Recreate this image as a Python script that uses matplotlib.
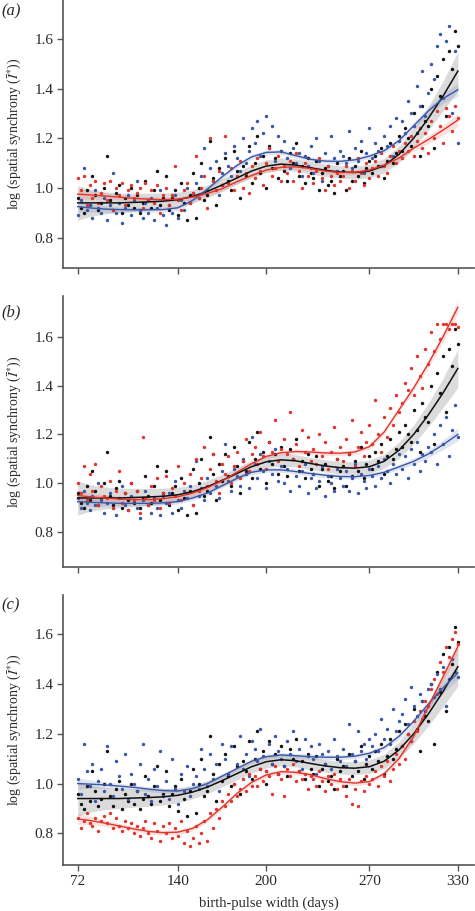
import matplotlib
matplotlib.use("Agg")
import matplotlib.pyplot as plt
import numpy as np

plt.rcParams['font.family'] = ['Liberation Serif', 'DejaVu Serif']
plt.rcParams['mathtext.fontset'] = 'stix'

# ---------------- data ----------------
DAYS = list(range(72, 331, 2))            # x of each scatter point
FIT_DAYS = [72] + list(range(80, 331, 10))  # x of fitted curves
XTICKS = [72, 140, 200, 270, 330]
YTICKS = [0.8, 1.0, 1.2, 1.4, 1.6]
PANEL_LABELS = ['(a)', '(b)', '(c)']

# black series (identical in all panels)
BLACK_PTS = [
    0.96, 0.92, 0.90, 0.99, 0.93, 1.05, 0.97, 0.91, 0.94, 1.00,
    1.13, 0.95, 0.91, 0.98, 1.01, 0.90, 0.96, 0.93, 1.00, 0.92,
    0.97, 0.90, 0.94, 1.03, 0.95, 0.92, 0.99, 1.07, 0.93, 0.96,
    1.05, 0.91, 0.96, 0.99, 0.89, 1.02, 0.94, 0.87, 0.97, 1.06,
    0.88, 1.00, 1.10, 0.95, 0.97, 1.19, 1.04, 0.93, 1.08, 1.01,
    1.12, 1.03, 0.99, 1.15, 1.07, 0.96, 1.09, 1.05, 1.17, 1.02,
    1.10, 1.21, 1.06, 1.13, 1.00, 1.17, 1.08, 1.12, 1.04, 1.15,
    1.07, 1.03, 1.14, 1.10, 1.18, 1.05, 1.09, 1.02, 1.12, 1.06,
    1.04, 1.11, 0.99, 1.06, 1.08, 1.01, 1.03, 0.98, 1.10, 1.05,
    1.07, 0.99, 1.12, 1.03, 1.09, 1.05, 1.15, 1.02, 1.08, 1.11,
    1.06, 1.13, 1.09, 1.16, 1.04, 1.11, 1.18, 1.10, 1.14, 1.21,
    1.15, 1.24, 1.20, 1.17, 1.30, 1.22, 1.13, 1.33, 1.27, 1.25,
    1.40, 1.16, 1.45, 1.37, 1.52, 1.29, 1.55, 1.48, 1.63, 1.57]
BLACK_FIT = [0.94, 0.94, 0.94, 0.94, 0.942, 0.944, 0.947, 0.953, 0.966,
             0.986, 1.012, 1.04, 1.068, 1.088, 1.096, 1.092, 1.081, 1.071,
             1.064, 1.062, 1.068, 1.09, 1.135, 1.2, 1.28, 1.37, 1.47]
GREY_HW = [0.07, 0.055, 0.045, 0.04, 0.037, 0.035, 0.033, 0.03, 0.027,
           0.026, 0.025, 0.025, 0.025, 0.025, 0.025, 0.025, 0.025, 0.025,
           0.025, 0.026, 0.027, 0.029, 0.033, 0.039, 0.048, 0.06, 0.078]
COLOR_HW = [0.022, 0.017, 0.013, 0.011, 0.01, 0.01, 0.01, 0.01, 0.01,
            0.01, 0.01, 0.01, 0.01, 0.01, 0.01, 0.01, 0.01, 0.01, 0.01,
            0.01, 0.01, 0.01, 0.011, 0.013, 0.016, 0.02, 0.026]

# panel (a)
A_BLUE_PTS = [
    0.89, 0.95, 1.08, 0.91, 0.93, 0.88, 0.99, 0.92, 0.90, 0.96,
    0.87, 0.93, 1.06, 0.90, 0.94, 0.86, 0.92, 0.97, 0.89, 0.95,
    1.03, 0.91, 0.88, 0.94, 0.90, 0.96, 0.87, 0.92, 0.99, 0.89,
    0.85, 0.93, 0.90, 0.97, 0.88, 0.95, 0.91, 1.00, 0.94, 0.98,
    1.02, 0.96, 1.05, 1.16, 0.99, 1.08, 1.03, 1.11, 0.97, 1.06,
    1.14, 1.09, 1.05, 1.17, 1.12, 1.07, 1.20, 1.10, 1.15, 1.24,
    1.18, 1.27, 1.13, 1.22, 1.29, 1.16, 1.25, 1.11, 1.21, 1.15,
    1.19, 1.12, 1.08, 1.16, 1.10, 1.14, 1.05, 1.13, 1.09, 1.17,
    1.06, 1.20, 1.11, 1.03, 1.14, 1.09, 1.21, 1.12, 1.07, 1.15,
    1.13, 1.10, 1.23, 1.08, 1.16, 1.11, 1.19, 1.06, 1.14, 1.24,
    1.12, 1.18, 1.15, 1.09, 1.21, 1.17, 1.25, 1.13, 1.28, 1.19,
    1.27, 1.22, 1.35, 1.30, 1.25, 1.41, 1.33, 1.47, 1.29, 1.38,
    1.50, 1.44, 1.57, 1.62, 1.36, 1.59, 1.65, 1.30, 1.55, 1.18]
A_RED_PTS = [
    1.04, 0.99, 1.05, 0.93, 1.01, 0.96, 1.03, 0.94, 0.98, 1.02,
    0.95, 1.03, 0.91, 1.00, 0.97, 1.02, 0.93, 0.99, 1.01, 0.96,
    0.98, 1.00, 0.92, 1.02, 0.95, 0.99, 0.94, 1.01, 0.90, 0.97,
    1.00, 0.93, 0.97, 1.09, 0.95, 0.91, 0.99, 1.02, 0.94, 0.98,
    1.13, 0.96, 1.00, 1.05, 0.92, 1.20, 1.03, 0.99, 1.07, 1.01,
    1.21, 1.02, 1.08, 0.99, 1.05, 1.11, 1.00, 1.06, 0.98, 1.09,
    1.04, 1.12, 1.07, 1.01, 1.10, 1.16, 1.05, 1.08, 1.13, 1.03,
    1.09, 1.06, 1.11, 1.03, 1.14, 1.07, 1.00, 1.10, 1.05, 1.08,
    1.02, 1.07, 1.12, 1.04, 0.99, 1.09, 1.05, 1.01, 1.06, 1.03,
    1.05, 1.09, 1.00, 1.07, 1.03, 1.12, 1.06, 1.01, 1.10, 1.04,
    1.08, 1.11, 1.05, 1.14, 1.09, 1.06, 1.13, 1.17, 1.10, 1.15,
    1.12, 1.18, 1.15, 1.21, 1.13, 1.19, 1.24, 1.16, 1.22, 1.14,
    1.27, 1.20, 1.31, 1.25, 1.18, 1.32, 1.29, 1.23, 1.33, 1.28]
A_BLUE_FIT = [0.925, 0.92, 0.915, 0.913, 0.912, 0.912, 0.913, 0.92, 0.95,
              0.995, 1.045, 1.09, 1.125, 1.143, 1.145, 1.13, 1.115, 1.108,
              1.107, 1.113, 1.128, 1.15, 1.19, 1.25, 1.31, 1.36, 1.395]
A_RED_FIT = [0.975, 0.972, 0.968, 0.963, 0.958, 0.955, 0.953, 0.955, 0.963,
             0.978, 0.997, 1.025, 1.05, 1.072, 1.083, 1.085, 1.078, 1.068,
             1.062, 1.063, 1.072, 1.092, 1.12, 1.16, 1.195, 1.233, 1.273]

# panel (b)
B_BLUE_PTS = [
    0.94, 0.90, 0.97, 0.92, 0.89, 0.95, 0.91, 1.00, 0.93, 0.88,
    0.92, 0.96, 0.90, 0.87, 0.94, 0.99, 0.91, 0.89, 0.95, 0.93,
    0.90, 0.86, 0.93, 0.97, 0.91, 0.88, 0.94, 0.90, 0.87, 0.95,
    0.92, 0.96, 0.88, 1.01, 0.93, 0.90, 0.97, 0.94, 0.99, 0.91,
    1.09, 0.95, 0.98, 0.93, 1.02, 0.96, 1.12, 0.99, 0.94, 1.05,
    1.16, 1.01, 0.97, 1.06, 1.03, 0.99, 1.10, 1.04, 0.98, 1.19,
    1.08, 1.02, 1.12, 1.05, 0.98, 1.09, 1.04, 1.14, 1.01, 1.07,
    1.00, 1.06, 0.97, 1.10, 1.03, 0.99, 1.05, 1.08, 0.96, 1.02,
    1.04, 0.98, 1.01, 1.07, 0.95, 1.03, 1.00, 0.97, 1.06, 1.02,
    0.99, 1.05, 0.97, 1.02, 1.08, 0.96, 1.04, 1.01, 0.98, 1.06,
    1.03, 0.99, 1.07, 1.02, 1.10, 1.05, 1.00, 1.08, 1.04, 1.12,
    1.06, 1.11, 1.02, 1.14, 1.08, 1.17, 1.05, 1.12, 1.09, 1.15,
    1.13, 1.20, 1.08, 1.24, 1.16, 1.27, 1.11, 1.22, 1.32, 1.19]
B_RED_PTS = [
    1.00, 0.96, 1.07, 0.93, 1.04, 0.97, 1.08, 0.91, 0.99, 0.95,
    0.94, 1.01, 0.90, 0.97, 1.05, 0.92, 0.96, 0.89, 1.00, 0.93,
    0.97, 0.88, 1.19, 0.94, 0.91, 0.99, 0.93, 1.02, 0.90, 0.96,
    1.03, 0.92, 0.98, 0.95, 1.07, 0.93, 1.00, 0.96, 1.04, 0.91,
    1.10, 0.97, 1.02, 1.15, 0.99, 1.06, 1.12, 1.01, 0.96, 1.08,
    1.04, 1.11, 1.00, 1.07, 1.13, 1.02, 1.09, 1.18, 1.05, 1.12,
    1.15, 1.08, 1.21, 1.11, 1.06, 1.17, 1.13, 1.26, 1.09, 1.14,
    1.18, 1.12, 1.29, 1.10, 1.16, 1.07, 1.22, 1.13, 1.19, 1.09,
    1.14, 1.08, 1.20, 1.11, 1.17, 1.06, 1.13, 1.23, 1.10, 1.15,
    1.09, 1.18, 1.12, 1.26, 1.07, 1.15, 1.21, 1.11, 1.17, 1.24,
    1.16, 1.34, 1.20, 1.13, 1.27, 1.19, 1.31, 1.24, 1.36, 1.29,
    1.33, 1.41, 1.38, 1.47, 1.36, 1.52, 1.44, 1.39, 1.55, 1.49,
    1.62, 1.54, 1.65, 1.59, 1.65, 1.65, 1.63, 1.65, 1.65, 1.64]
B_BLUE_FIT = [0.925, 0.922, 0.92, 0.918, 0.918, 0.918, 0.92, 0.925, 0.94,
              0.96, 0.99, 1.02, 1.045, 1.055, 1.055, 1.048, 1.04, 1.033,
              1.028, 1.027, 1.032, 1.045, 1.067, 1.09, 1.12, 1.158, 1.2]
B_RED_FIT = [0.95, 0.945, 0.94, 0.935, 0.933, 0.933, 0.937, 0.945, 0.96,
             0.982, 1.01, 1.045, 1.08, 1.11, 1.125, 1.13, 1.128, 1.124,
             1.123, 1.128, 1.15, 1.21, 1.3, 1.39, 1.49, 1.6, 1.72]

# panel (c)
C_BLUE_PTS = [
    1.02, 0.96, 1.16, 1.05, 0.99, 1.08, 0.93, 1.01, 1.06, 0.97,
    1.15, 1.00, 0.95, 1.09, 1.03, 0.98, 1.12, 0.94, 1.04, 1.00,
    0.97, 1.08, 1.16, 0.96, 1.02, 0.93, 1.06, 0.99, 1.13, 0.95,
    1.01, 0.94, 1.10, 0.98, 0.92, 1.04, 0.97, 1.07, 0.95, 1.00,
    1.03, 0.98, 1.14, 1.06, 0.99, 1.12, 1.02, 1.08, 0.97, 1.16,
    1.10, 1.04, 1.15, 1.00, 1.08, 1.19, 1.06, 1.12, 1.03, 1.17,
    1.14, 1.09, 1.22, 1.11, 1.05, 1.16, 1.08, 1.19, 1.13, 1.10,
    1.07, 1.17, 1.12, 1.21, 1.09, 1.14, 1.06, 1.18, 1.11, 1.15,
    1.10, 1.04, 1.16, 1.12, 1.08, 1.13, 1.06, 1.18, 1.11, 1.09,
    1.14, 1.07, 1.24, 1.12, 1.09, 1.21, 1.13, 1.16, 1.10, 1.18,
    1.15, 1.20, 1.13, 1.26, 1.18, 1.22, 1.16, 1.30, 1.21, 1.25,
    1.28, 1.34, 1.24, 1.39, 1.31, 1.27, 1.36, 1.33, 1.29, 1.38,
    1.40, 1.35, 1.44, 1.38, 1.47, 1.31, 1.42, 1.50, 1.45, 1.43]
C_RED_PTS = [
    0.86, 0.82, 0.85, 0.88, 0.84, 0.83, 0.86, 0.81, 0.85, 0.87,
    0.84, 0.88, 0.82, 0.86, 0.83, 0.81, 0.85, 0.82, 0.84, 0.80,
    0.83, 0.79, 0.82, 0.85, 0.80, 0.78, 0.84, 0.81, 0.77, 0.83,
    0.80, 0.84, 0.78, 0.82, 0.79, 0.85, 0.76, 0.81, 0.75, 0.78,
    0.83, 0.76, 0.80, 0.85, 0.77, 0.88, 0.82, 0.90, 0.86, 0.93,
    0.91, 0.96, 0.93, 1.00, 0.95, 0.98, 1.02, 0.97, 1.04, 0.99,
    1.03, 0.99, 1.06, 1.01, 1.05, 1.03, 0.96, 1.07, 1.04, 1.02,
    0.95, 1.06, 1.03, 1.08, 1.01, 1.05, 1.02, 1.04, 0.98, 1.03,
    1.02, 0.99, 1.05, 1.01, 0.97, 1.03, 1.00, 1.04, 0.98, 1.02,
    0.99, 0.95, 1.02, 0.92, 0.98, 0.91, 1.01, 0.97, 1.03, 1.00,
    1.02, 1.05, 0.99, 1.07, 1.03, 1.09, 1.01, 1.06, 1.12, 1.08,
    1.15, 1.10, 1.20, 1.17, 1.25, 1.21, 1.29, 1.26, 1.33, 1.31,
    1.38, 1.42, 1.36, 1.49, 1.45, 1.55, 1.51, 1.58, 1.61, 1.56]
C_BLUE_FIT = [1.0, 0.998, 0.995, 0.99, 0.985, 0.978, 0.972, 0.97, 0.98,
              1.0, 1.03, 1.06, 1.09, 1.108, 1.115, 1.112, 1.108, 1.106,
              1.106, 1.11, 1.122, 1.145, 1.19, 1.25, 1.32, 1.385, 1.445]
C_RED_FIT = [0.858, 0.852, 0.842, 0.83, 0.818, 0.808, 0.803, 0.805, 0.82,
             0.855, 0.905, 0.96, 1.005, 1.035, 1.048, 1.045, 1.036, 1.02,
             1.008, 1.002, 1.008, 1.04, 1.1, 1.19, 1.31, 1.43, 1.55]

PANELS = [
    (A_BLUE_PTS, A_RED_PTS, A_BLUE_FIT, A_RED_FIT),
    (B_BLUE_PTS, B_RED_PTS, B_BLUE_FIT, B_RED_FIT),
    (C_BLUE_PTS, C_RED_PTS, C_BLUE_FIT, C_RED_FIT),
]

# ---------------- style ----------------
BLACK = '#111111'
BLUE = '#3a57a6'
RED = '#e3342c'
SPINE = '#555555'
TXT = '#2a2a2a'

positions = [
    [0.1326, 0.7058, 0.8654, 0.2942],
    [0.1326, 0.3780, 0.8654, 0.2970],
    [0.1326, 0.0505, 0.8654, 0.2964],
]
ylims = [(0.678, 1.756), (0.659, 1.766), (0.673, 1.758)]
label_y = [0.987, 0.6575, 0.335]

fig = plt.figure(figsize=(4.75, 9.11), dpi=100)
fd = np.array(FIT_DAYS)
bf = np.array(BLACK_FIT)
ghw = np.array(GREY_HW)
chw = np.array(COLOR_HW)

for i, (bp, rp, bfit, rfit) in enumerate(PANELS):
    ax = fig.add_axes(positions[i])
    ax.fill_between(fd, bf - ghw, bf + ghw, color='#d2d2d2', alpha=0.8,
                    lw=0, zorder=1)
    for fit, col in ((bfit, BLUE), (rfit, RED)):
        f = np.array(fit)
        ax.fill_between(fd, f - chw, f + chw, color=col, alpha=0.15, lw=0,
                        zorder=1.5)
    ax.scatter(DAYS, BLACK_PTS, s=6, color=BLACK, lw=0, zorder=2)
    ax.scatter(DAYS, bp, s=6, color=BLUE, lw=0, zorder=2)
    ax.scatter(DAYS, rp, s=6, color=RED, lw=0, zorder=2)
    ax.plot(fd, bf, color=BLACK, lw=1.1, zorder=3)
    ax.plot(fd, bfit, color=BLUE, lw=1.0, zorder=3)
    ax.plot(fd, rfit, color=RED, lw=1.0, zorder=3)

    ax.set_xlim(62, 341)
    ax.set_ylim(*ylims[i])
    ax.set_xticks(XTICKS)
    ax.set_yticks(YTICKS)
    ax.set_yticklabels(['%.1f' % v for v in YTICKS])
    if i < 2:
        ax.set_xticklabels([])
    else:
        ax.set_xticklabels([str(v) for v in XTICKS])
    for s in ('top', 'right'):
        ax.spines[s].set_visible(False)
    for s in ('left', 'bottom'):
        ax.spines[s].set_color(SPINE)
        ax.spines[s].set_linewidth(1.2)
    ax.tick_params(direction='out', length=4, width=1.0, color=SPINE,
                   labelcolor=TXT, labelsize=11, pad=3)

    center = positions[i][1] + positions[i][3] / 2
    fig.text(0.031, center, r'log (spatial synchrony ($\bar{I}^{*}$))',
             rotation=90, ha='center', va='center', fontsize=10, color=TXT)
    fig.text(0.004, label_y[i], PANEL_LABELS[i], style='italic',
             fontsize=12, ha='left', va='center', color=TXT)

fig.text(0.566, 0.009, 'birth-pulse width (days)', ha='center', va='center',
         fontsize=10.5, color=TXT)

fig.savefig('out.png', dpi=100)
